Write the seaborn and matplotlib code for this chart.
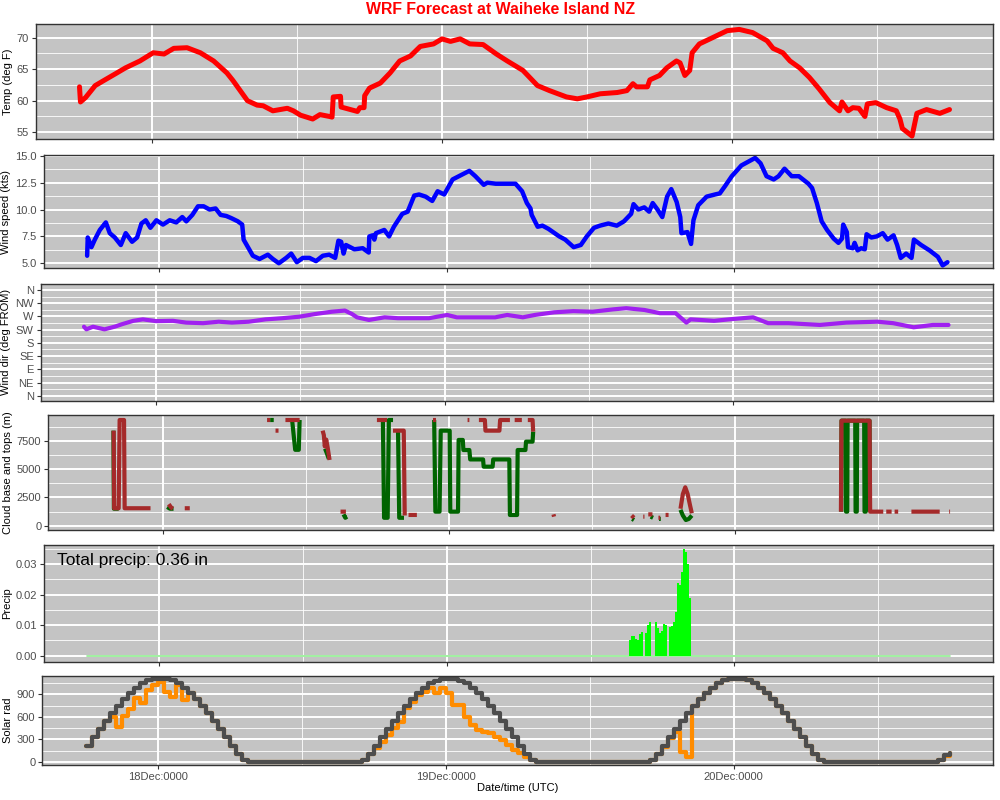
import numpy as np
import pandas as pd
import matplotlib
matplotlib.use("Agg")
import matplotlib.pyplot as plt
import matplotlib.dates as mdates
import seaborn as sns

# ------------------------------------------------------------------ data
START = "2020-12-17 18:00"   # first forecast time (UTC); times below are hours after it

temp_h = [0, 0.08, 0.5, 1.3, 2.1, 3.0, 3.8, 5.0, 6.1, 7.0, 7.8, 8.9, 10.0, 11.1, 12.2, 12.7,
          13.3, 13.9, 14.7, 15.2, 16.0, 17.2, 17.7, 18.3, 19.3, 19.9, 20.7, 20.9, 21.0, 21.6,
          21.65, 23.0, 23.2, 23.55, 23.6, 24.0, 24.9, 25.7, 26.5, 27.4, 28.2, 29.3, 30.0, 30.7,
          31.5, 32.3, 33.4, 34.5, 35.4, 36.7, 37.5, 37.9, 38.9, 40.3, 41.2, 42.0, 43.1, 44.5,
          45.3, 45.8, 46.1, 47.0, 47.2, 48.0, 48.6, 49.4, 49.7, 50.1, 50.5, 50.7, 51.3, 52.4,
          53.6, 54.6, 55.7, 56.9, 57.4, 58.2, 58.8, 59.6, 60.4, 61.2, 62.1, 62.9, 63.1, 63.6,
          64.0, 64.5, 65.0, 65.2, 65.9, 66.8, 67.6, 67.9, 68.1, 68.9, 69.3, 70.1, 71.2, 72.0]
temp_f = [62.2, 59.8, 60.5, 62.4, 63.3, 64.3, 65.2, 66.3, 67.6, 67.4, 68.3, 68.4, 67.6, 66.3,
          64.4, 63.2, 61.6, 60.0, 59.3, 59.2, 58.4, 58.8, 58.4, 57.7, 57.1, 57.8, 57.5, 57.4,
          60.6, 60.7, 59.0, 58.3, 58.9, 58.9, 60.8, 62.0, 62.8, 64.4, 66.3, 67.1, 68.6, 69.0,
          69.8, 69.4, 69.8, 69.0, 68.9, 67.4, 66.3, 64.8, 63.2, 62.4, 61.6, 60.6, 60.3, 60.6,
          61.1, 61.3, 61.6, 62.7, 62.2, 62.2, 63.3, 64.0, 65.2, 66.3, 66.0, 64.0, 64.8, 67.6,
          69.0, 70.0, 71.1, 71.3, 70.8, 69.5, 68.3, 67.6, 66.3, 65.2, 63.7, 61.9, 59.7, 58.4,
          59.8, 58.4, 58.9, 58.8, 57.5, 59.5, 59.7, 58.9, 58.4, 57.1, 55.6, 54.4, 58.0, 58.6,
          58.0, 58.6]

wind_h = [0, 0.05, 0.36, 0.64, 1.06, 1.56, 1.89, 2.31, 2.81, 3.22,
          3.75, 4.17, 4.53, 4.89, 5.28, 5.78, 6.33, 6.89, 7.44, 7.94,
          8.28, 8.78, 9.25, 9.72, 10.22, 10.72, 11.14, 11.61, 12.03, 12.58,
          12.94, 13.06, 13.42, 13.83, 14.39, 15.08, 15.5, 16.0, 16.61, 17.03,
          17.5, 18.0, 18.56, 19.1, 19.67, 20.2, 20.7, 20.97, 21.2, 21.4,
          21.6, 22.3, 23.0, 23.5, 23.55, 23.83, 23.97, 24.1, 24.8, 25.2,
          25.6, 26.3, 26.75, 27.3, 27.7, 28.25, 28.8, 29.25, 29.8, 30.5,
          31.2, 31.9, 32.4, 33.1, 33.4, 34.1, 34.9, 35.75, 36.3, 36.7,
          37.0, 37.1, 37.6, 38.0, 38.5, 39.4, 39.9, 40.6, 41.2, 41.7,
          42.3, 42.8, 43.5, 44.2, 44.8, 45.4, 45.6, 46.0, 46.5, 46.9,
          47.2, 47.6, 48.0, 48.4, 48.75, 49.2, 49.5, 49.6, 50.1, 50.4,
          50.6, 51.0, 51.7, 52.4, 52.8, 53.25, 53.8, 54.6, 55.75, 56.2,
          56.7, 57.3, 57.7, 58.2, 58.8, 59.4, 60.2, 60.5, 60.9, 61.3,
          61.75, 62.3, 62.7, 63.0, 63.1, 63.4, 63.5, 63.9, 64.05, 64.3,
          64.6, 64.9, 65.05, 65.45, 65.9, 66.4, 66.8, 67.3, 67.6, 67.9,
          68.35, 68.8, 69.0, 69.6, 70.3, 71.0, 71.4, 71.8]
wind_kt = [5.7, 7.4, 6.5, 7.2, 8.1, 8.8, 7.8, 7.4, 6.7, 7.8,
           7.0, 7.4, 8.7, 9.0, 8.3, 9.0, 8.6, 9.0, 8.8, 9.3,
           8.9, 9.5, 10.3, 10.3, 10.0, 10.1, 9.5, 9.4, 9.2, 8.9,
           8.6, 7.2, 6.5, 5.7, 5.4, 5.8, 5.4, 5.0, 5.5, 5.9,
           5.1, 5.5, 5.5, 5.2, 5.7, 5.8, 5.5, 7.1, 7.0, 5.9,
           6.7, 6.3, 6.4, 6.0, 7.5, 7.6, 7.2, 7.8, 8.1, 7.5,
           8.4, 9.6, 9.8, 11.3, 11.4, 11.2, 10.8, 11.7, 11.4, 12.8,
           13.2, 13.6, 13.1, 12.3, 12.5, 12.4, 12.4, 12.4, 11.7, 10.6,
           10.1, 9.5, 8.4, 8.5, 8.2, 7.5, 7.2, 6.5, 6.7, 7.5,
           8.3, 8.5, 8.7, 8.5, 8.9, 9.6, 10.5, 10.0, 10.2, 9.8,
           10.6, 10.0, 9.3, 11.2, 11.9, 10.7, 9.3, 7.8, 7.9, 6.8,
           9.0, 10.4, 11.2, 11.4, 11.5, 12.2, 13.1, 14.1, 14.8, 14.3,
           13.1, 12.8, 13.1, 13.8, 13.1, 13.1, 12.4, 12.0, 10.6, 8.9,
           8.1, 7.3, 6.9, 7.3, 8.6, 7.9, 6.5, 6.4, 6.9, 6.2,
           6.4, 6.3, 7.7, 7.4, 7.5, 7.8, 7.2, 7.6, 6.7, 5.5,
           5.9, 5.5, 7.2, 6.7, 6.2, 5.6, 4.8, 5.1]

dir_h = [0, 0.2, 0.75, 1.7, 2.55, 3.2, 4.1, 4.9, 6.0, 7.4,
         8.5, 9.9, 11.2, 12.3, 13.7, 15.1, 16.5, 17.9, 19.2, 20.6,
         21.7, 22.3, 22.7, 23.7, 25.0, 26.1, 28.7, 30.2, 31.0, 34.2,
         35.2, 36.5, 37.5, 39.1, 40.7, 42.3, 44.0, 45.1, 46.6, 47.9,
         49.2, 50.1, 50.45, 52.4, 53.9, 55.65, 56.9, 58.6, 61.2, 63.4,
         66.0, 67.3, 69.0, 70.6, 71.9]
dir_deg = [235, 226, 235, 226, 235, 244, 255, 260, 254, 255,
           249, 247, 252, 249, 252, 260, 264, 269, 278, 286,
           290, 278, 267, 258, 267, 264, 264, 275, 267, 267,
           275, 267, 275, 284, 288, 286, 294, 298, 292, 281,
           281, 249, 260, 255, 261, 267, 247, 247, 241, 249,
           252, 247, 233, 241, 241]
dir_labels = ["N", "NE", "E", "SE", "S", "SW", "W", "NW", "N"]

N = None  # gap (no cloud)
cloud_top_h = [1.88, 1.92, 2.3, 2.38, 2.75, 2.8, 4.97, N,
               6.5, 6.7, 6.85, N, 7.84, 8.26, N,
               14.74, 15.0, N, 15.45, 15.7, N, 16.28, 17.47, N,
               19.4, 19.5, 19.58, 19.7, 19.82, 19.98, N, 20.9, 21.35, N,
               23.95, 24.8, N, 25.3, 26.2, 26.28, N, 26.6, 27.3, N,
               28.65, 28.9, N, 31.55, 31.7, N, 32.5, 33.0, 33.05, 34.22, 34.28, 35.1, N,
               35.5, 36.1, N, 36.6, 37.0, 37.05, N, 38.75, 38.8, N,
               45.3, 45.5, N, 46.28, 46.38, N, 46.7, 47.05, N, 47.55, 47.7, N, 48.15, 48.4, N,
               49.4, 49.6, 49.8, 50.0, 50.2, 50.35, N,
               62.85, 62.9, 65.25, 65.3, 66.4, N, 66.65, 67.1, N, 67.35, 67.65, N,
               68.76, 71.13, N, 71.93, 72.0]
cloud_top_m = [8390, 1540, 1540, 9330, 9330, 1540, 1540, N,
               1900, 1600, 1500, N, 1540, 1540, N,
               9330, 9330, N, 8390, 8390, N, 9330, 9330, N,
               8390, 8000, 7000, 7600, 6900, 5800, N, 1240, 1240, N,
               9330, 9330, N, 8390, 8390, 900, N, 950, 950, N,
               9330, 9330, N, 9330, 9330, N, 9330, 9330, 8390, 8390, 9330, 9330, N,
               9330, 9330, N, 9330, 9330, 8300, N, 1000, 800, N,
               900, 700, N, 800, 800, N, 1000, 1000, N, 700, 700, N, 950, 950, N,
               1500, 2800, 3390, 2800, 1800, 1100, N,
               1240, 9270, 9270, 1240, 1240, N, 1240, 1240, N, 1240, 1240, N,
               1240, 1240, N, 1240, 1240]

cloud_base_h = [1.86, 1.9, 2.3, N,
                6.37, 6.6, 6.9, N,
                15.0, 15.3, N, 16.84, 16.97, 17.1, 17.4, 17.47, N,
                19.6, 19.75, 19.92, N, 21.15, 21.3, 21.45, N,
                24.45, 24.55, 24.85, 24.95, 25.3, N, 25.72, 25.82, 26.22, N,
                28.75, 28.85, 29.2, 29.3, 30.05, 30.1, 30.75, 30.8, 31.15, 31.2, 31.7,
                31.77, 32.85, 32.9, 33.65, 33.7, 35.05, 35.1, 35.7, 35.75, 36.4, 36.45,
                37.0, 37.05, N,
                45.35, 45.5, N, 46.9, 47.1, N, 47.6, 47.75, N,
                49.4, 49.6, 49.85, 50.1, 50.35, N,
                62.88, 62.9, 63.25, 63.28, 63.38, 63.41, 64.05, 64.08, 64.18, 64.21,
                64.8, 64.83, 64.93, 64.96, 65.25, 65.28]
cloud_base_m = [8390, 1500, 1500, N,
                1650, 1500, 1500, N,
                9330, 9330, N, 9330, 8000, 6700, 6700, 9330, N,
                6800, 6400, 5900, N, 1000, 700, 800, N,
                9330, 700, 700, 9330, 9330, N, 8390, 700, 700, N,
                9330, 1240, 1240, 8390, 8390, 1240, 1240, 7570, 7570, 6680, 6680,
                5850, 5850, 5210, 5210, 5850, 5850, 945, 945, 6680, 6680, 7420,
                7420, 8300, N,
                600, 500, N, 800, 700, N, 600, 600, N,
                1400, 900, 500, 600, 900, N,
                1240, 9270, 9270, 1240, 1240, 9270, 9270, 1240, 1240, 9270,
                9270, 1240, 1240, 9270, 9270, 1240]

rain_h = [45.33, 45.5, 45.67, 45.83, 46.0, 46.17, 46.33, 46.67, 46.83, 47.0,
          47.5, 47.67, 47.83, 48.0, 48.17, 48.33, 48.67, 48.83, 49.0, 49.17,
          49.33, 49.5, 49.67, 49.83, 50.0, 50.17, 50.33]
rain_in = [0.0051, 0.0065, 0.0063, 0.0055, 0.0052, 0.0072, 0.0078, 0.0075, 0.0100, 0.0109,
           0.0110, 0.0090, 0.0073, 0.0080, 0.0104, 0.0100, 0.0095, 0.0098, 0.0110, 0.0144,
           0.0237, 0.0230, 0.0275, 0.0348, 0.0340, 0.0300, 0.0188]
precip_total = "0.36"

solar_h = np.arange(0, 72.01, 0.5)          # half-hourly forecast times
solar_clear = ([212, 327, 438, 544, 646, 747, 836, 911, 985, 1045, 1085, 1105, 1110,
                1105, 1085, 1045, 985, 911, 836, 747, 646, 544, 438, 327, 212, 110, 30]
               + [0] * 19 +
               [30, 110, 212, 327, 438, 544, 646, 747, 836, 911, 985, 1045, 1080, 1100, 1105,
                1100, 1080, 1045, 985, 911, 836, 747, 646, 544, 438, 327, 212, 110, 30]
               + [0] * 19 +
               [30, 110, 212, 327, 438, 544, 646, 747, 836, 911, 985, 1045, 1085, 1105, 1110,
                1105, 1085, 1045, 985, 911, 836, 747, 646, 544, 438, 327, 212, 110, 30]
               + [0] * 19 + [27, 93, 124])
solar_actual = ([212, 327, 438, 544, 600, 465, 610, 700, 856, 790, 955, 1020, 1066,
                 933, 867, 1022, 822, 911, 836, 747, 646, 544, 438, 327, 212, 110, 30]
                + [0] * 19 +
                [30, 100, 190, 271, 358, 447, 535, 712, 800, 889, 933, 978, 911, 978, 911,
                 756, 756, 602, 491, 425, 403, 380, 336, 290, 226, 159, 115, 71, 27]
                + [0] * 19 +
                [25, 105, 205, 320, 400, 137, 62, 747, 836, 911, 985, 1045, 1085, 1105, 1110,
                 1105, 1085, 1045, 985, 911, 836, 747, 646, 544, 438, 327, 212, 110, 30]
                + [0] * 19 + [20, 85, 118])

# ------------------------------------------------------------------ helpers
sns.set_theme(style="white")
plt.rcParams["font.family"] = ["Liberation Sans", "DejaVu Sans"]

t0 = pd.Timestamp(START)


def tt(h):
    return t0 + pd.to_timedelta(np.asarray(h, dtype=float), unit="h")


PANEL = "#C4C4C4"
DARK = "#333333"

fig = plt.figure(figsize=(10, 8), dpi=100)
pos = [
    [0.0360, 0.8263, 0.9570, 0.1438],
    [0.0440, 0.6646, 0.9490, 0.1416],
    [0.0407, 0.4991, 0.9523, 0.1459],
    [0.0483, 0.3375, 0.9447, 0.1438],
    [0.0443, 0.1729, 0.9487, 0.1459],
    [0.0423, 0.04375, 0.9507, 0.1116],
]
axes = [fig.add_axes(p) for p in pos]
ax_t, ax_w, ax_d, ax_c, ax_p, ax_s = axes

# temperature
sns.lineplot(x=tt(temp_h), y=temp_f, ax=ax_t, color="#FF0000", linewidth=3.6,
             estimator=None, sort=False)
# wind speed
sns.lineplot(x=tt(wind_h), y=wind_kt, ax=ax_w, color="#0000FF", linewidth=3.2,
             estimator=None, sort=False)
# wind direction
sns.lineplot(x=tt(dir_h), y=dir_deg, ax=ax_d, color="#A020F0", linewidth=3.0,
             estimator=None, sort=False)
# cloud base / tops (gaps where no cloud)
ax_c.plot(tt(np.array(cloud_base_h, dtype=float)), np.array(cloud_base_m, dtype=float),
          color="#006400", lw=3.0, solid_capstyle="butt")
ax_c.plot(tt(np.array(cloud_top_h, dtype=float)), np.array(cloud_top_m, dtype=float),
          color="#A52A2A", lw=3.0, solid_capstyle="butt")

# precipitation on a 10-minute grid
grid_n = 72 * 6 + 1
precip = np.zeros(grid_n)
for h, v in zip(rain_h, rain_in):
    precip[int(round(h * 6))] = v
precip_t = tt(np.arange(grid_n) / 6.0)
ax_p.bar(precip_t, precip, width=1 / 144, color="#00FF00", align="center",
         edgecolor="none", linewidth=0, zorder=3)
sns.lineplot(x=precip_t, y=precip * 0, ax=ax_p, color="#90EE90", linewidth=1.2,
             estimator=None, sort=False, zorder=2)
ax_p.text(tt(-2.5), 0.031, f"Total precip: {precip_total} in", fontsize=12.5,
          ha="left", va="center", color="black")

# solar radiation
sns.lineplot(x=tt(solar_h), y=solar_actual, ax=ax_s, color="#FF8C00", linewidth=3.0,
             estimator=None, sort=False, drawstyle="steps-post")
sns.lineplot(x=tt(solar_h), y=solar_clear, ax=ax_s, color="#4D4D4D", linewidth=3.0,
             estimator=None, sort=False, drawstyle="steps-post")


def style(ax, ylim, major, minor, ylabel, labels=None, show_x=False):
    ax.set_facecolor(PANEL)
    ax.set_xlim(tt(-3.6), tt(75.6))
    ax.set_ylim(*ylim)
    ax.xaxis.set_major_locator(mdates.DayLocator())
    ax.xaxis.set_minor_locator(mdates.HourLocator(byhour=12))
    ax.xaxis.set_major_formatter(mdates.DateFormatter("%d%b:%H%M"))
    if labels is None:
        ax.set_yticks(major)
    else:
        ax.set_yticks(major, labels=labels)
    ax.set_yticks(minor, minor=True)
    ax.grid(which="major", color="white", lw=1.4)
    ax.grid(which="minor", color="white", lw=0.6)
    ax.set_axisbelow(True)
    ax.tick_params(which="major", direction="out", length=3, width=0.8, color=DARK,
                   labelsize=8, labelcolor="#4D4D4D", pad=2, bottom=True, left=True,
                   top=False, right=False, labelbottom=show_x)
    ax.tick_params(which="minor", length=0)
    for s in ax.spines.values():
        s.set_color(DARK)
        s.set_linewidth(1.0)
    ax.set_ylabel(ylabel, fontsize=8, color="black", labelpad=3)
    ax.set_xlabel("")


style(ax_t, (53.94, 72.17), [55, 60, 65, 70], [57.5, 62.5, 67.5], "Temp (deg F)")
style(ax_w, (4.53, 15.07), [5, 7.5, 10, 12.5, 15], [6.25, 8.75, 11.25, 13.75],
      "Wind speed (kts)", labels=["5.0", "7.5", "10.0", "12.5", "15.0"])
style(ax_d, (-17, 380.4), list(range(0, 361, 45)), [22.5 + 45 * i for i in range(8)],
      "Wind dir (deg FROM)", labels=dir_labels)
style(ax_c, (-380, 9775), [0, 2500, 5000, 7500], [1250, 3750, 6250, 8750],
      "Cloud base and tops (m)")
style(ax_p, (-0.00196, 0.0362), [0, 0.01, 0.02, 0.03], [0.005, 0.015, 0.025, 0.035],
      "Precip", labels=["0.00", "0.01", "0.02", "0.03"])
style(ax_s, (-40, 1147), [0, 300, 600, 900], [150, 450, 750, 1050], "Solar rad",
      show_x=True)

fig.text(0.5005, 1 - 10 / 800, "WRF Forecast at Waiheke Island NZ", ha="center",
         va="center", color="#FF0000", fontsize=11.4, fontweight="bold")
fig.text(0.5175, 1 - 788 / 800, "Date/time (UTC)", ha="center", va="center",
         fontsize=8, color="black")

fig.savefig("out.png", dpi=100, facecolor="white")
